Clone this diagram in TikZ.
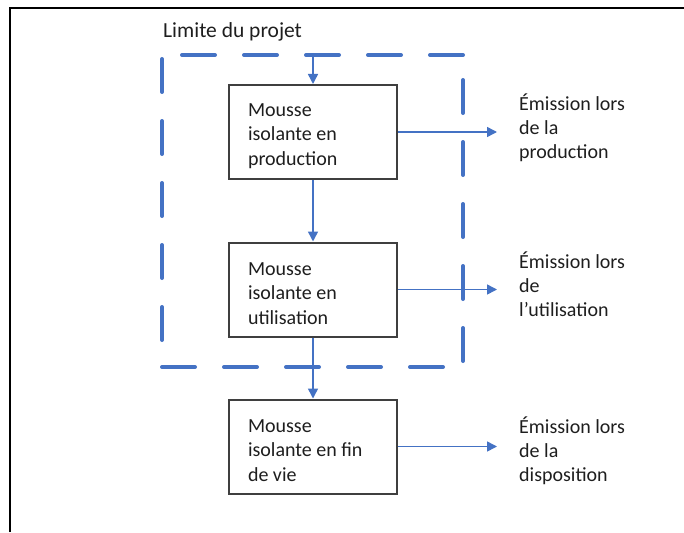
\documentclass[tikz,border=0pt]{standalone}
\usepackage{fontspec}
\setmainfont{Carlito}
\usetikzlibrary{arrows.meta}
\definecolor{flowblue}{HTML}{4472C4}
\definecolor{boxgray}{HTML}{3F3F3F}
\definecolor{inkgray}{HTML}{1E1E1E}
\begin{document}
\begin{tikzpicture}[x=1pt, y=-1pt,
  font=\fontsize{20}{24}\selectfont, text=inkgray,
  stagebox/.style={draw=boxgray, line width=2pt, fill=white,
    minimum width=168pt, minimum height=94pt, inner sep=0pt},
  boxtext/.style={font=\fontsize{20}{24.3}\selectfont,
    text width=130pt, inner sep=0pt, align=flush left, yshift=-4pt},
  outlabel/.style={anchor=west, align=flush left, inner sep=0pt},
  flow/.style={draw=flowblue, line width=1.5pt,
    -{Triangle[length=10pt, width=10pt]}},
  boundary/.style={draw=flowblue, line width=4pt, line cap=round,
    dash pattern=on 33pt off 29pt}]
\useasboundingbox (0,0) rectangle (684,532);

% page frame (top and left edges)
\draw[line width=2pt, black] (10,532) -- (10,8) -- (684,8);

% project boundary, each side dashed on its own
\draw[boundary] (463,55) -- (162,55);
\draw[boundary] (162,59) -- (162,367);
\draw[boundary] (162,367) -- (463,367);
\draw[boundary] (463,361) -- (463,55);
\node[anchor=base west, inner sep=0pt, font=\fontsize{21.5}{26}\selectfont]
  (limit) at (163,38) {Limite du projet};

% life-cycle stages
\node[stagebox, label={[boxtext]center:{Mousse\\isolante en\\production}}]
  (prod) at (313,132) {};
\node[stagebox, label={[boxtext]center:{Mousse\\isolante en\\utilisation}}]
  (use) at (313,289.5) {};
\node[stagebox, label={[boxtext]center:{Mousse\\isolante en fin\\de vie}}]
  (eol) at (313,446.5) {};

% emission labels
\node[outlabel] (eprod) at (519,128) {Émission lors\\de la\\production};
\node[outlabel] (euse)  at (519,284) {Émission lors\\de\\l’utilisation};
\node[outlabel] (eeol)  at (519,451) {Émission lors\\de la\\disposition};

% connectors
\coordinate (entry) at (313,53);
\coordinate (tips) at (497,0);
\draw[flow] (entry) -- (prod);
\draw[flow] (prod) -- (use);
\draw[flow] (use) -- (eol);
\draw[flow] (prod.east) -- (prod.east -| tips);
\draw[flow] (use.east) -- (use.east -| tips);
\draw[flow] (eol.east) -- (eol.east -| tips);
\end{tikzpicture}
\end{document}
